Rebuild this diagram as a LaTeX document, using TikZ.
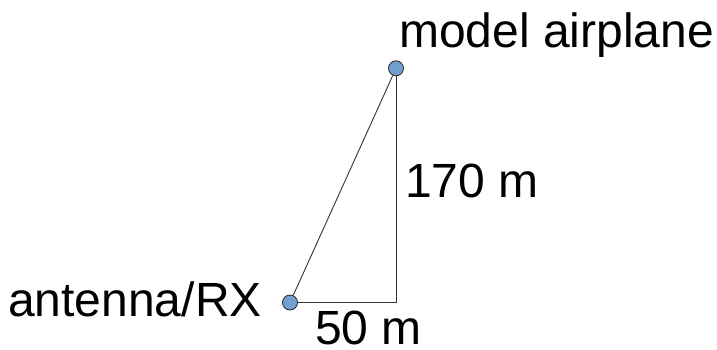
\documentclass[tikz,border=0pt]{standalone}
\usepackage{fontspec}
\setmainfont{Liberation Sans}
\begin{document}
\begin{tikzpicture}[x=1pt,y=-1pt,
  dot/.style={circle,draw=black!85,line width=0.8pt,fill={rgb,255:red,114;green,159;blue,207},minimum size=15pt,inner sep=0pt},
  conn/.style={draw=black!80,line width=0.9pt},
  lbl/.style={anchor=base west,inner sep=0pt,font=\fontsize{48}{48}\selectfont}]
\useasboundingbox (0,0) rectangle (717,349);
\node[dot] (plane) at (396,68.3) {};
\node[dot] (ant) at (290,302.5) {};
\coordinate (corner) at (396,302.5);
\draw[conn] (ant) -- (plane);
\draw[conn] (plane) -- (corner) -- (ant);
\node[lbl] (tplane) at (399,47) {model airplane};
\node[lbl] (tant) at (8,316.5) {antenna/RX};
\node[lbl] (th) at (405,197) {170 m};
\node[lbl] (tw) at (315,344) {50 m};
\end{tikzpicture}
\end{document}
